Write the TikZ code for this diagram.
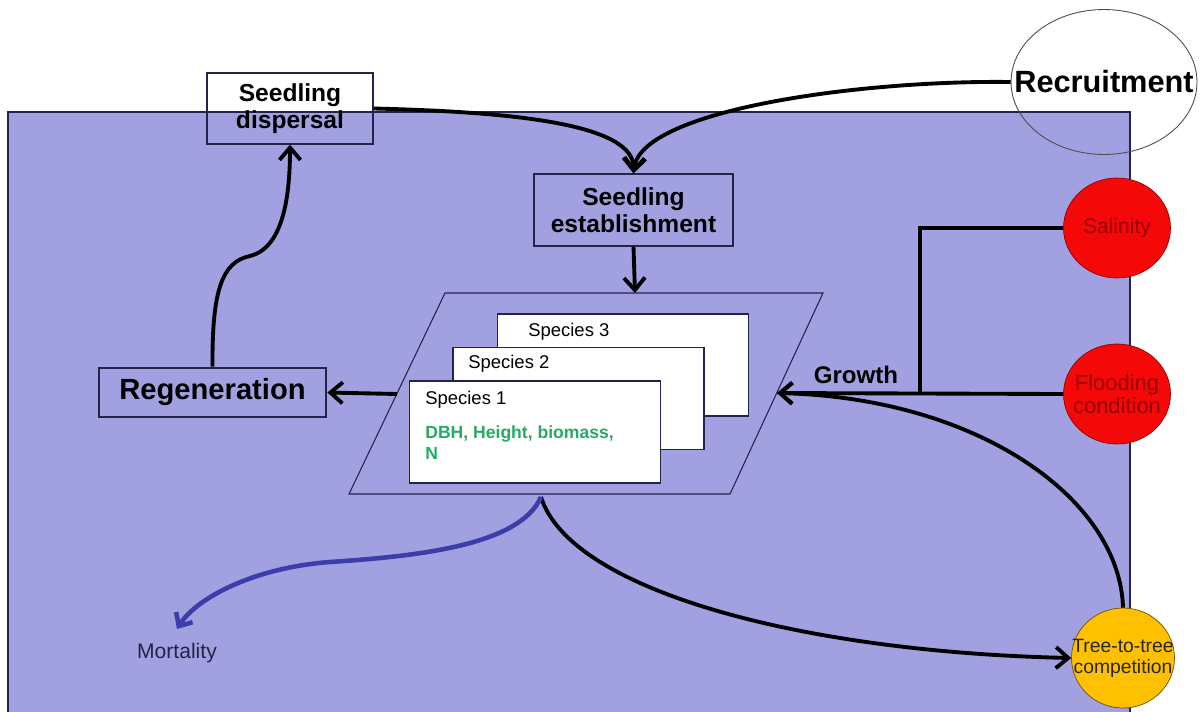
\documentclass[tikz,border=0pt]{standalone}
\usepackage{fontspec}
\setmainfont{Liberation Sans}
\usetikzlibrary{arrows.meta, positioning, shapes.geometric, calc}

\definecolor{bgpurple}{RGB}{161,161,225}
\definecolor{navy}{RGB}{35,35,75}
\definecolor{factorred}{RGB}{245,8,8}
\definecolor{darkred}{RGB}{150,0,0}
\definecolor{compyellow}{RGB}{255,192,0}
\definecolor{compedge}{RGB}{110,80,0}
\definecolor{traitgreen}{RGB}{40,170,100}
\definecolor{mortblue}{RGB}{60,60,170}

\begin{document}
\begin{tikzpicture}[x=0.02cm, y=-0.02cm,
    box/.style={draw=navy, inner sep=0pt, align=center},
    stagebox/.style={box, line width=0.8pt, font=\fontsize{14}{15.5}\selectfont\bfseries},
    species/.style={draw=navy, fill=white, line width=0.8pt, minimum width=5.02cm, minimum height=2.04cm, inner sep=0pt},
    sptext/.style={anchor=west, inner sep=0pt, font=\fontsize{10.5}{12.6}\selectfont},
    factor/.style={ellipse, inner sep=0pt, minimum width=2.14cm, minimum height=2cm},
    flow/.style={line width=2.2pt, -{Straight Barb[length=7pt, width=12pt]}},
    link/.style={line width=2.2pt}
]
    % page and background area
    \useasboundingbox (0,0) rectangle (1203,711);
    \fill[white] (0,0) rectangle (1203,711);
    \filldraw[fill=bgpurple, draw=navy, line width=0.8pt] (8,112) rectangle (1130,715);

    % recruitment oval
    \node[ellipse, draw=black!70, line width=0.5pt, minimum width=3.72cm, minimum height=2.9cm, inner sep=0pt,
          label={[font=\fontsize{17.5}{20}\selectfont\bfseries]center:Recruitment}] (recr) at (1104,82) {};

    % boxes of the stages
    \node[stagebox, minimum width=3.32cm, minimum height=1.42cm] (disp) at (290,108.5) {Seedling\\dispersal};
    \node[stagebox, minimum width=3.98cm, minimum height=1.44cm] (est) at (633.5,210) {Seedling\\establishment};
    \node[box, line width=1.6pt, minimum width=4.54cm, minimum height=0.98cm,
          font=\fontsize{16.6}{18}\selectfont\bfseries] (regen) at (212.5,392.5) {Regeneration};

    % patch with the species
    \draw[navy, line width=0.6pt] (445,293) -- (823,293) -- (730,494) -- (349,494) -- cycle;
    \coordinate (patchN) at (635,293);
    \coordinate (patchW) at (397,394);
    \coordinate (patchE) at (777,393);
    \coordinate (patchS) at (541,497);

    \node[species] (sp3) at (623,365) {};
    \node[species] (sp2) at (578.5,398.5) {};
    \node[species] (sp1) at (535,432) {};
    \node[sptext] (sp3text) at (528,332) {Species 3};
    \node[sptext] (sp2text) at (468,364) {Species 2};
    \node[sptext] (sp1text) at (425,400) {Species 1};
    \node[sptext, align=left, text=traitgreen, font=\fontsize{10}{12}\selectfont\bfseries] (traits) at (425,442.5) {DBH, Height, biomass,\\N};

    % outside factors
    \node[factor, draw=darkred, fill=factorred,
          label={[text=darkred, font=\fontsize{12}{13}\selectfont]center:Salinity}] (sal) at (1117,228) {};
    \node[factor, draw=darkred, fill=factorred,
          label={[text=darkred, align=center, font=\fontsize{12.5}{13.5}\selectfont]center:Flooding\\condition}] (flood) at (1117,394) {};
    \node[factor, draw=compedge, fill=compyellow, minimum width=2.06cm,
          label={[text=black!85, align=center, font=\fontsize{11}{12}\selectfont]center:Tree-to-tree\\competition}] (comp) at (1123,658) {};

    \node[font=\fontsize{13.7}{15}\selectfont\bfseries] (growth) at (856,375) {Growth};
    \node[font=\fontsize{12}{14}\selectfont, text=navy] (mort) at (177,653) {Mortality};

    % connectors
    \draw[flow] (disp.east) .. controls (520,112) and (635,125) .. (est.north);
    \draw[flow] (recr.west) .. controls (860,80) and (640,110) .. (est.north);
    \draw[flow] (est.south) -- (patchN);
    \draw[flow] (patchW) -- (regen.east);
    \draw[flow] (regen.north) .. controls (212,290) and (222,262) .. (250,256)
        .. controls (282,248) and (290,200) .. (disp.south);
    \coordinate (join) at (920,393);
    \draw[link] (sal.west) -| (join);
    \draw[flow] (flood.west) -- (patchE);
    \draw[flow] (comp.north) .. controls (1120,500) and (980,398) .. (patchE);
    \draw[flow] (patchS) .. controls (570,590) and (800,652) .. (comp.west);
    \draw[mortblue, line width=2.6pt, -{Straight Barb[length=6pt, width=11pt]}]
        (patchS) .. controls (520,545) and (420,556) .. (330,562)
        .. controls (250,568) and (195,600) .. ([yshift=0.16cm]mort.north);
\end{tikzpicture}
\end{document}
